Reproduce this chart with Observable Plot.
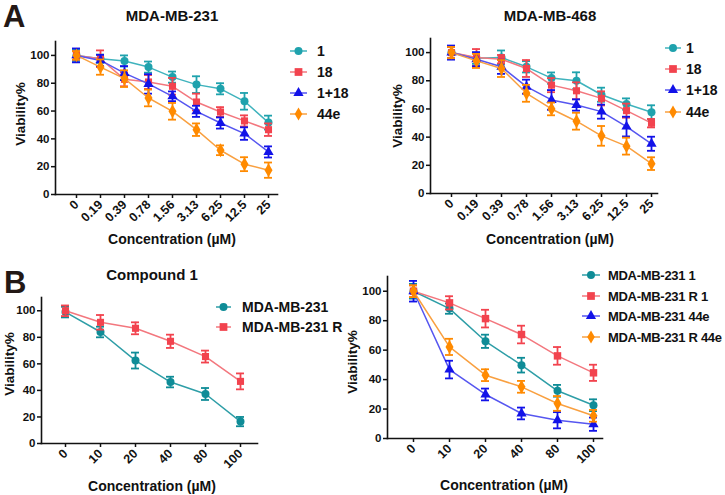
<!DOCTYPE html>
<html>
<head>
<meta charset="utf-8">
<script src="https://cdn.jsdelivr.net/npm/d3@7"></script>
<script src="https://cdn.jsdelivr.net/npm/@observablehq/plot@0.6"></script>
<style>
  body { margin: 0; background: #fff; }
  #root { position: relative; width: 725px; height: 495px; overflow: hidden; font-family: "Liberation Sans", Arial, sans-serif; color: #111; }
  .abs { position: absolute; white-space: nowrap; }
  .title { font-weight: bold; font-size: 15px; transform: translate(-50%, -50%); }
  .xlab { font-weight: bold; font-size: 14px; transform: translate(-50%, -50%); }
  .ylab { font-weight: bold; font-size: 13.5px; transform: translate(-50%, -50%) rotate(-90deg); }
  .letter { font-weight: bold; font-size: 31px; line-height: 1; color: #231815; }
  .leg { font-weight: bold; font-size: 14px; display: flex; align-items: center; }
  .leg svg { display: block; }
  svg { overflow: visible; }
</style>
</head>
<body>
<div id="root"></div>
<script>
// ---------- data ----------
const concA = ["0", "0.19", "0.39", "0.78", "1.56", "3.13", "6.25", "12.5", "25"];
const concB = ["0", "10", "20", "40", "80", "100"];
const yTicks = [0, 20, 40, 60, 80, 100];

// Panel A, MDA-MB-231
const a231_c1 = [100, 97.6, 96, 91.6, 84.4, 79, 76, 67, 51.7];
const a231_c1_err = [4, 3, 4, 4, 4, 6, 4, 6, 5];
const a231_c18 = [100, 97.6, 82.8, 80.9, 77.8, 66.5, 59.3, 52.9, 46.6];
const a231_c18_err = [3, 6, 5, 5, 6, 6, 3.5, 4, 4.5];
const a231_c1p18 = [100, 96.4, 87.3, 79.5, 70.6, 59.8, 51.4, 43.8, 30.6];
const a231_c1p18_err = [5, 4, 5, 7, 3.5, 4, 4, 4.5, 4];
const a231_c44e = [100, 91.6, 83.3, 69.4, 59.8, 46.6, 31.8, 21.8, 17.5];
const a231_c44e_err = [3, 5.5, 6, 6, 6, 4.5, 3.5, 5, 5.5];

// Panel A, MDA-MB-468
const a468_c1 = [100, 96, 96.5, 89.9, 81.9, 80, 70.1, 63.5, 57.6];
const a468_c1_err = [4, 4, 5, 4, 4, 6, 5, 4, 5];
const a468_c18 = [100, 96.5, 95.3, 88.7, 76.9, 72.9, 67.5, 58.8, 49.9];
const a468_c18_err = [4, 6, 3, 6, 5, 6, 5, 5, 3];
const a468_c1p18 = [100, 95.3, 89.9, 75.8, 66.4, 62.8, 58.1, 47.5, 35.3];
const a468_c1p18_err = [5, 5, 5, 5, 7, 4, 5, 7, 5];
const a468_c44e = [100, 94.1, 88.7, 71.1, 60, 51.3, 40.9, 33.6, 21.2];
const a468_c44e_err = [4, 5, 6, 6, 4.5, 6, 7, 6, 4.5];

// Panel B, Compound 1
const b1_231 = [99, 84, 62.5, 46.3, 37.3, 16.5];
const b1_231_err = [4, 4, 6, 4, 4.5, 3.5];
const b1_231R = [100, 91.3, 86.8, 77, 65.5, 46.8];
const b1_231R_err = [4, 5.5, 4.5, 5, 4.5, 6];

// Panel B, right
const b2_231_1 = [100, 88.2, 66, 49.8, 32.4, 22.6];
const b2_231_1_err = [5, 3.5, 4.5, 5, 4, 4];
const b2_231R_1 = [100, 92.1, 81.4, 70.6, 56.1, 44.6];
const b2_231R_1_err = [4, 4.5, 6, 6, 6, 5.5];
const b2_231_44e = [100, 46.8, 29.9, 17, 12.4, 9.7];
const b2_231_44e_err = [7, 6, 4, 4, 5.5, 4.5];
const b2_231R_44e = [100, 62.2, 43, 35.1, 23.8, 15.4];
const b2_231R_44e_err = [4, 5.5, 4, 4, 5, 4];

// ---------- styles ----------
const TEAL_A = {mark: "#1fa2ad", line: "#3fb3bd"};
const TEAL_B = {mark: "#0f8c97", line: "#2e9ea7"};
const RED = {mark: "#f2434e", line: "#f3777e"};
const BLUE = {mark: "#1212e8", line: "#5656f0"};
const ORANGE = {mark: "#ff8a00", line: "#f9a040"};

const root = document.getElementById("root");
const FONT = '"Liberation Sans", Arial, sans-serif';

function seriesMarks(conc, vals, errs, col, symbol, r) {
  const data = conc.map((c, i) => ({c, v: vals[i], e: errs[i]}));
  return [
    Plot.line(data, {x: "c", y: "v", stroke: col.line, strokeWidth: 1.5}),
    Plot.ruleX(data, {x: "c", y1: d => d.v - d.e, y2: d => d.v + d.e, stroke: col.mark, strokeWidth: 1.8}),
    Plot.ruleY(data, {x1: "c", x2: "c", y: d => d.v + d.e, insetLeft: -4, insetRight: -4, stroke: col.mark, strokeWidth: 1.8}),
    Plot.ruleY(data, {x1: "c", x2: "c", y: d => d.v - d.e, insetLeft: -4, insetRight: -4, stroke: col.mark, strokeWidth: 1.8}),
    Plot.dot(data, {x: "c", y: "v", fill: col.mark, stroke: "none", symbol, r})
  ];
}

function panel(cfg) {
  const marks = [];
  cfg.series.forEach(s => marks.push(...seriesMarks(cfg.conc, s.vals, s.errs, s.col, s.symbol, s.r)));
  const p = Plot.plot({
    width: cfg.width, height: cfg.height,
    marginLeft: cfg.ml, marginRight: cfg.mr, marginTop: cfg.mt, marginBottom: cfg.mb,
    style: {fontFamily: FONT, fontSize: "11.5px", fontWeight: "bold", color: "#111", background: "transparent", overflow: "visible"},
    x: {type: "point", domain: cfg.conc, padding: 0, insetLeft: cfg.il, insetRight: cfg.ir},
    y: {domain: [0, 110]},
    marks: [
      Plot.frame({anchor: "left", stroke: "#111", strokeWidth: 1.6}),
      Plot.frame({anchor: "bottom", stroke: "#111", strokeWidth: 1.6}),
      Plot.axisX({tickRotate: -45, tickSize: 4, tickPadding: 4, strokeWidth: 1.5, label: null, fill: "#111", fontWeight: "bold", fontSize: 12.5}),
      Plot.axisY({ticks: yTicks, tickSize: 4, tickPadding: 2, strokeWidth: 1.5, label: null, fill: "#111", fontWeight: "bold", fontSize: 11.5}),
      ...marks
    ]
  });
  p.style.position = "absolute";
  p.style.left = cfg.left + "px";
  p.style.top = cfg.top + "px";
  root.appendChild(p);
}

function text(cls, str, x, y) {
  const d = document.createElement("div");
  d.className = "abs " + cls;
  d.textContent = str;
  d.style.left = x + "px";
  d.style.top = y + "px";
  root.appendChild(d);
}

const symPath = {
  circle: d3.symbol(d3.symbolCircle, 50)(),
  square: d3.symbol(d3.symbolSquare, 60)(),
  triangle: d3.symbol(d3.symbolTriangle, 45)(),
  diamond: d3.symbol(d3.symbolDiamond, 50)()
};

function legend(items, x, rows, lineW, gap, fontSize, spacing) {
  items.forEach((it, i) => {
    const d = document.createElement("div");
    d.className = "abs leg";
    d.style.left = x + "px";
    d.style.top = (rows[i] - 9) + "px";
    d.style.height = "18px";
    d.style.fontSize = fontSize + "px";
    d.style.letterSpacing = spacing + "px";
    d.innerHTML = `<svg width="${lineW}" height="18"><line x1="0" x2="${lineW}" y1="9" y2="9" stroke="${it.col.line}" stroke-width="1.5"/><path d="${symPath[it.symbol]}" transform="translate(${lineW / 2},9)" fill="${it.col.mark}"/></svg><span style="margin-left:${gap}px">${it.label}</span>`;
    root.appendChild(d);
  });
}

// ---------- panels ----------
const sA = (c1, c1e, c18, c18e, cp, cpe, c44, c44e) => [
  {vals: c1, errs: c1e, col: TEAL_A, symbol: "circle", r: 4},
  {vals: c18, errs: c18e, col: RED, symbol: "square", r: 4},
  {vals: cp, errs: cpe, col: BLUE, symbol: "triangle", r: 3.8},
  {vals: c44, errs: c44e, col: ORANGE, symbol: "diamond", r: 4.2}
];

panel({left: 0, top: 0, width: 362, height: 250, ml: 55, mr: 85, mt: 41, mb: 56, il: 17, ir: 6, conc: concA,
  series: sA(a231_c1, a231_c1_err, a231_c18, a231_c18_err, a231_c1p18, a231_c1p18_err, a231_c44e, a231_c44e_err)});
panel({left: 362, top: 0, width: 363, height: 250, ml: 68, mr: 68, mt: 38, mb: 57, il: 20, ir: 6, conc: concA,
  series: sA(a468_c1, a468_c1_err, a468_c18, a468_c18_err, a468_c1p18, a468_c1p18_err, a468_c44e, a468_c44e_err)});
panel({left: 0, top: 250, width: 362, height: 245, ml: 41, mr: 105, mt: 47, mb: 52, il: 24, ir: 17, conc: concB,
  series: [
    {vals: b1_231, errs: b1_231_err, col: TEAL_B, symbol: "circle", r: 4},
    {vals: b1_231R, errs: b1_231R_err, col: RED, symbol: "square", r: 4}
  ]});
panel({left: 362, top: 250, width: 363, height: 245, ml: 25, mr: 123, mt: 26, mb: 57, il: 25, ir: 8, conc: concB,
  series: [
    {vals: b2_231_1, errs: b2_231_1_err, col: TEAL_B, symbol: "circle", r: 4},
    {vals: b2_231R_1, errs: b2_231R_1_err, col: RED, symbol: "square", r: 4.2},
    {vals: b2_231_44e, errs: b2_231_44e_err, col: BLUE, symbol: "triangle", r: 3.8},
    {vals: b2_231R_44e, errs: b2_231R_44e_err, col: ORANGE, symbol: "diamond", r: 4.2}
  ]});

// ---------- text ----------
const letterA = document.createElement("div");
letterA.className = "abs letter"; letterA.textContent = "A";
letterA.style.left = "3px"; letterA.style.top = "1px"; root.appendChild(letterA);
const letterB = document.createElement("div");
letterB.className = "abs letter"; letterB.textContent = "B";
letterB.style.left = "4px"; letterB.style.top = "267px"; root.appendChild(letterB);

text("title", "MDA-MB-231", 172, 15);
text("title", "MDA-MB-468", 550, 15);
text("title", "Compound 1", 152, 274);

text("xlab", "Concentration (µM)", 172, 239);
text("xlab", "Concentration (µM)", 550, 239);
text("xlab", "Concentration (µM)", 152, 486);
text("xlab", "Concentration (µM)", 504, 485);

text("ylab", "Viability%", 20, 114);
text("ylab", "Viability%", 397, 116);
text("ylab", "Viability%", 9, 364);
text("ylab", "Viability%", 352, 362);

const legA = [
  {label: "1", col: TEAL_A, symbol: "circle"},
  {label: "18", col: RED, symbol: "square"},
  {label: "1+18", col: BLUE, symbol: "triangle"},
  {label: "44e", col: ORANGE, symbol: "diamond"}
];
legend(legA, 290, [51, 72, 93, 114], 17, 10, 14, 0);
legend(legA, 665, [48, 69, 90, 112], 16, 5, 14, 0);
legend([
  {label: "MDA-MB-231", col: TEAL_B, symbol: "circle"},
  {label: "MDA-MB-231 R", col: RED, symbol: "square"}
], 216, [307, 327], 15, 11, 14, 0);
legend([
  {label: "MDA-MB-231 1", col: TEAL_B, symbol: "circle"},
  {label: "MDA-MB-231 R 1", col: RED, symbol: "square"},
  {label: "MDA-MB-231 44e", col: BLUE, symbol: "triangle"},
  {label: "MDA-MB-231 R 44e", col: ORANGE, symbol: "diamond"}
], 582, [275, 296, 316, 337], 18, 8, 13, -0.3);
</script>
</body>
</html>
